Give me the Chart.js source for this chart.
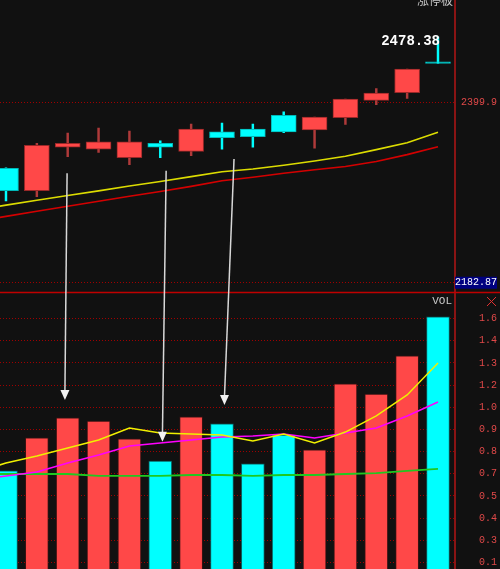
<!DOCTYPE html>
<html>
<head>
<meta charset="utf-8">
<script src="https://cdn.jsdelivr.net/npm/chart.js@4.4.0/dist/chart.umd.min.js"></script>
<style>
  html, body { margin: 0; padding: 0; background: #111111; }
  canvas { display: block; background: #111111; }
</style>
</head>
<body>
<canvas id="kline" width="500" height="569"></canvas>
<script>
// daily candles, left to right
const openP  = [2320.5, 2293.5, 2345.8, 2343.4, 2333.2, 2350.6, 2340.9, 2364.5, 2367.8, 2384.3, 2366.6, 2381.4, 2402.3, 2411.4, 2448.5];
const closeP = [2293.5, 2348.2, 2350.6, 2352.5, 2352.5, 2345.8, 2367.8, 2357.3, 2358.5, 2364.2, 2382.2, 2403.9, 2411.1, 2440.0, 2446.6];
const highP  = [2321.2, 2350.6, 2363.0, 2369.0, 2365.4, 2353.7, 2373.8, 2375.0, 2373.8, 2388.6, 2382.2, 2403.9, 2416.3, 2440.0, 2478.38];
const lowP   = [2281.2, 2286.3, 2334.5, 2339.7, 2324.8, 2333.2, 2335.7, 2343.4, 2345.8, 2363.3, 2344.6, 2373.4, 2397.0, 2404.7, 2446.6];
const volume = [0.663, 0.866, 0.989, 0.970, 0.860, 0.724, 0.995, 0.952, 0.706, 0.884, 0.792, 1.198, 1.136, 1.370, 1.610];

// moving averages: one extra day at the start (cut off by the left edge)
const priceMaA = [2270.4, 2276.2, 2282.0, 2287.8, 2293.4, 2299.2, 2304.7, 2310.5, 2316.3, 2319.7, 2324.2, 2329.4, 2335.1, 2343.0, 2351.3, 2363.8];
const priceMaB = [2256.7, 2262.7, 2268.8, 2274.8, 2280.8, 2286.9, 2292.7, 2298.8, 2305.5, 2309.8, 2314.6, 2318.7, 2322.7, 2328.7, 2337.0, 2346.5];
const volMa5  = [0.650, 0.712, 0.755, 0.804, 0.853, 0.927, 0.896, 0.890, 0.884, 0.847, 0.890, 0.835, 0.902, 1.001, 1.130, 1.326];
const volMa10 = [0.607, 0.632, 0.656, 0.712, 0.761, 0.816, 0.835, 0.853, 0.872, 0.878, 0.890, 0.865, 0.896, 0.927, 1.001, 1.087];
const volMa20 = [0.644, 0.644, 0.644, 0.644, 0.632, 0.632, 0.632, 0.638, 0.638, 0.632, 0.638, 0.638, 0.644, 0.650, 0.663, 0.675];

const priceTicks = [2399.9, 2182.87];
const priceTickLabels = ['2399.9', '2182.87'];
const volTicks = [0.1, 0.236, 0.373, 0.509, 0.645, 0.782, 0.918, 1.055, 1.191, 1.327, 1.464, 1.6];
const volTickLabels = ['0.1', '0.3', '0.4', '0.5', '0.7', '0.8', '0.9', '1.0', '1.2', '1.3', '1.4', '1.6'];

// hand drawn arrows: from a price level down to a volume level
const arrowFromX = [1.98, 5.19, 7.39];
const arrowFromPrice = [2314.5, 2317.6, 2331.7];
const arrowToX = [1.91, 5.07, 7.08];
const arrowToVol = [1.099, 0.843, 1.068];

const RED = '#ff4848', RED_EDGE = '#9a2828', RED_WICK = '#b03a3a';
const CYAN = '#00ffff', CYAN_EDGE = '#00b8b8';

const up = closeP.map((c, i) => c >= openP[i]);
const line = arr => arr.map((v, i) => ({x: i - 1, y: v}));

const overlay = {
  id: 'overlay',
  afterDraw(chart) {
    const {ctx, scales: {x, yp, yv}} = chart;
    ctx.save();
    // line between price pane and volume pane
    ctx.strokeStyle = '#c00000';
    ctx.lineWidth = 1.5;
    ctx.beginPath();
    ctx.moveTo(0, yp.bottom);
    ctx.lineTo(chart.width, yp.bottom);
    ctx.stroke();

    // arrows
    ctx.strokeStyle = '#d8d8d8';
    ctx.fillStyle = '#f2f2f2';
    ctx.lineWidth = 1.5;
    arrowFromX.forEach((fx, i) => {
      const x0 = x.getPixelForValue(fx), y0 = yp.getPixelForValue(arrowFromPrice[i]);
      const x1 = x.getPixelForValue(arrowToX[i]), y1 = yv.getPixelForValue(arrowToVol[i]);
      ctx.beginPath();
      ctx.moveTo(x0, y0);
      ctx.lineTo(x1, y1 - 8);
      ctx.stroke();
      ctx.beginPath();
      ctx.moveTo(x1 - 4.5, y1 - 10);
      ctx.lineTo(x1 + 4.5, y1 - 10);
      ctx.lineTo(x1, y1);
      ctx.closePath();
      ctx.fill();
    });

    // highest price
    const top = highP.indexOf(Math.max(...highP));
    ctx.font = 'bold 14px "Liberation Mono", monospace';
    ctx.fillStyle = '#ffffff';
    ctx.textAlign = 'right';
    ctx.textBaseline = 'middle';
    ctx.fillText(highP[top].toFixed(2), x.getPixelForValue(top) + 2, yp.getPixelForValue(highP[top]) + 4);

    ctx.font = '12px "Noto Sans CJK SC"';
    ctx.fillStyle = '#c8c8c8';
    ctx.textBaseline = 'alphabetic';
    ctx.fillText('涨停板', yp.left - 2, 5);

    ctx.font = '11px "Liberation Mono", monospace';
    ctx.textBaseline = 'middle';
    ctx.fillText('VOL', yv.left - 3, yv.top + 9);

    // close mark
    const cx = chart.width - 8.5, cy = yv.top + 9;
    ctx.strokeStyle = '#e03030';
    ctx.lineWidth = 1;
    ctx.beginPath();
    ctx.moveTo(cx - 4.5, cy - 4.5); ctx.lineTo(cx + 4.5, cy + 4.5);
    ctx.moveTo(cx + 4.5, cy - 4.5); ctx.lineTo(cx - 4.5, cy + 4.5);
    ctx.stroke();
    ctx.restore();
  }
};

const tickFont = {family: '"Liberation Mono", monospace', size: 10};
// fixed axis width, and no extra room for half labels at the ends
const fitAxis = s => { s.width = 42; s.paddingTop = 0; s.paddingBottom = 0; };

new Chart(document.getElementById('kline'), {
  type: 'bar',
  data: {
    datasets: [
      {type: 'line', data: line(volMa5), yAxisID: 'yv', borderColor: '#f0f000', borderWidth: 1.5, pointRadius: 0, tension: 0},
      {type: 'line', data: line(volMa10), yAxisID: 'yv', borderColor: '#ff00ff', borderWidth: 1.5, pointRadius: 0, tension: 0},
      {type: 'line', data: line(volMa20), yAxisID: 'yv', borderColor: '#20c820', borderWidth: 1.8, pointRadius: 0, tension: 0},
      {type: 'line', data: line(priceMaA), yAxisID: 'yp', borderColor: '#dcdc00', borderWidth: 1.6, pointRadius: 0, tension: 0},
      {type: 'line', data: line(priceMaB), yAxisID: 'yp', borderColor: '#d40000', borderWidth: 1.6, pointRadius: 0, tension: 0},
      {
        data: openP.map((o, i) => ({x: i, y: [o, closeP[i]]})),
        yAxisID: 'yp',
        barThickness: 25,
        backgroundColor: up.map(u => u ? RED : CYAN),
        borderColor: up.map(u => u ? RED_EDGE : CYAN_EDGE),
        borderWidth: 1,
        borderSkipped: false
      },
      {
        data: highP.map((h, i) => ({x: i, y: [lowP[i], h]})),
        yAxisID: 'yp',
        barThickness: 1.8,
        backgroundColor: up.map(u => u ? RED_WICK : CYAN),
        borderWidth: 0
      },
      {
        data: volume.map((v, i) => ({x: i, y: v})),
        yAxisID: 'yv',
        barThickness: 23,
        backgroundColor: up.map(u => u ? RED : CYAN),
        borderColor: up.map(u => u ? '#3a1212' : '#0a6060'),
        borderWidth: 1
      }
    ]
  },
  options: {
    responsive: false,
    animation: false,
    events: [],
    layout: {padding: {top: 0, left: 0, bottom: 0, right: 3}},
    datasets: {bar: {grouped: false}},
    plugins: {legend: {display: false}, tooltip: {enabled: false}},
    scales: {
      x: {type: 'linear', display: false, min: -0.194, max: 14.551, offset: false},
      yp: {
        type: 'linear',
        position: 'right',
        stack: 'panes',
        stackWeight: 292.5,
        min: 2171.1,
        max: 2523.0,
        afterBuildTicks: s => { s.ticks = priceTicks.map(v => ({value: v})); },
        afterFit: fitAxis,
        grid: {color: '#a00000', lineWidth: 1, drawTicks: false},
        border: {display: true, color: '#8a1414', width: 2, dash: [1, 2]},
        ticks: {
          autoSkip: false,
          crossAlign: 'far',
          padding: 0,
          font: tickFont,
          color: c => c.index === 1 ? '#ffffff' : '#e04848',
          showLabelBackdrop: c => c.index === 1,
          backdropColor: '#000080',
          backdropPadding: {top: 0, bottom: 0, left: 0, right: 2},
          callback: (v, i) => priceTickLabels[i]
        }
      },
      yv: {
        type: 'linear',
        position: 'right',
        stack: 'panes',
        stackWeight: 276.5,
        min: 0.060,
        max: 1.760,
        afterBuildTicks: s => { s.ticks = volTicks.map(v => ({value: v})); },
        afterFit: fitAxis,
        grid: {color: '#a00000', lineWidth: 1, drawTicks: false},
        border: {display: true, color: '#8a1414', width: 2, dash: [1, 2]},
        ticks: {
          autoSkip: false,
          maxTicksLimit: 20,
          crossAlign: 'far',
          padding: 0,
          font: tickFont,
          color: '#e04848',
          callback: (v, i) => volTickLabels[i]
        }
      }
    }
  },
  plugins: [overlay]
});
</script>
</body>
</html>
